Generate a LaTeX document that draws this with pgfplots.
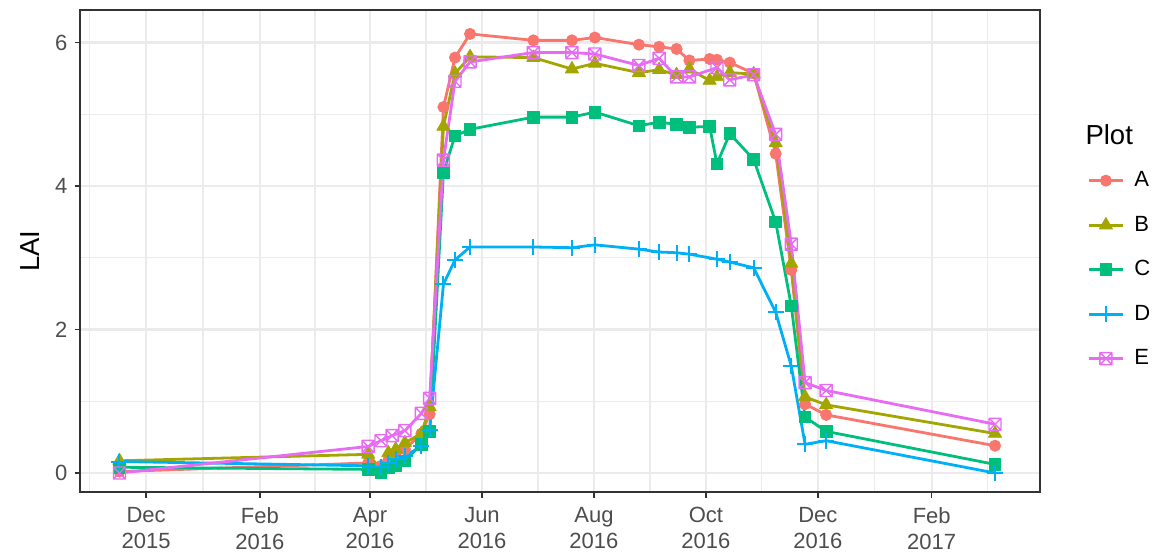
\documentclass[border=0pt]{standalone}
\usepackage{fontspec}
\setmainfont{Liberation Sans}
\usepackage{pgfplots}
\pgfplotsset{compat=1.18}
\usepackage{pgfplotstable}

\definecolor{cA}{HTML}{F8766D}
\definecolor{cB}{HTML}{A3A500}
\definecolor{cC}{HTML}{00BF7D}
\definecolor{cD}{HTML}{00B0F6}
\definecolor{cE}{HTML}{E76BF3}
\definecolor{gridgray}{HTML}{EBEBEB}
\definecolor{gray20}{HTML}{333333}
\definecolor{gray30}{HTML}{4D4D4D}

% square with a cross inside (ggplot shape 7)
\pgfdeclareplotmark{sqx}{%
  \pgfpathrectangle{\pgfqpoint{-\pgfplotmarksize}{-\pgfplotmarksize}}{\pgfqpoint{2\pgfplotmarksize}{2\pgfplotmarksize}}%
  \pgfpathmoveto{\pgfqpoint{-\pgfplotmarksize}{-\pgfplotmarksize}}%
  \pgfpathlineto{\pgfqpoint{\pgfplotmarksize}{\pgfplotmarksize}}%
  \pgfpathmoveto{\pgfqpoint{-\pgfplotmarksize}{\pgfplotmarksize}}%
  \pgfpathlineto{\pgfqpoint{\pgfplotmarksize}{-\pgfplotmarksize}}%
  \pgfusepathqstroke}

% day = days since 1 Dec 2015
\pgfplotstableread{
day lai
-14.5 0.02
121 0.14
128 0.10
132 0.18
136 0.27
141 0.33
150 0.55
154.5 0.82
162 5.10
168.3 5.79
176.5 6.12
211 6.03
232 6.03
244.5 6.07
268.5 5.97
279.5 5.94
289 5.91
296 5.75
307 5.77
311 5.76
318 5.72
331 5.57
343 4.45
351.5 2.83
359 0.96
370.5 0.81
462.5 0.38
}\plotA
\pgfplotstableread{
day lai
-14.5 0.17
121 0.26
128 0.05
132 0.28
136 0.33
141 0.42
150 0.55
154.5 0.92
162 4.83
168.3 5.57
176.5 5.80
211 5.79
232 5.63
244.5 5.71
268.5 5.58
279.5 5.62
289 5.55
296 5.63
307 5.47
311 5.52
318 5.58
331 5.56
343 4.60
351.5 2.92
359 1.06
370.5 0.95
462.5 0.55
}\plotB
\pgfplotstableread{
day lai
-14.5 0.08
121 0.05
128 0.00
132 0.07
136 0.11
141 0.17
150 0.40
154.5 0.58
162 4.19
168.3 4.70
176.5 4.79
211 4.96
232 4.96
244.5 5.03
268.5 4.84
279.5 4.89
289 4.86
296 4.82
307 4.83
311 4.31
318 4.73
331 4.37
343 3.50
351.5 2.33
359 0.78
370.5 0.58
462.5 0.12
}\plotC
\pgfplotstableread{
day lai
-14.5 0.16
121 0.10
128 0.09
132 0.14
136 0.19
141 0.24
150 0.37
154.5 0.60
162 2.63
168.3 2.97
176.5 3.15
211 3.15
232 3.14
244.5 3.18
268.5 3.12
279.5 3.08
289 3.07
296 3.05
311 2.98
318 2.94
331 2.86
343 2.24
351.5 1.49
359 0.40
370.5 0.45
462.5 0.00
}\plotD
\pgfplotstableread{
day lai
-14.5 0.00
121 0.37
128 0.45
134 0.52
141 0.59
150 0.83
154.5 1.04
162 4.36
168.3 5.46
176.5 5.73
211 5.86
232 5.86
244.5 5.84
268.5 5.68
279.5 5.78
289 5.52
296 5.52
311 5.65
318 5.48
331 5.55
343 4.72
351.5 3.19
359 1.26
370.5 1.15
462.5 0.68
}\plotE

\begin{document}
\begin{tikzpicture}
\useasboundingbox (0,0) rectangle (578.5pt,277pt);
\begin{axis}[
    at={(40pt,31pt)}, anchor=south west,
    scale only axis, width=480pt, height=241pt,
    clip=false,
    xmin=-36, xmax=487,
    ymin=-0.265, ymax=6.453,
    xtick={0,62,122,183,244,305,366,428},
    xticklabels={{Dec\\2015},{Feb\\2016},{Apr\\2016},{Jun\\2016},{Aug\\2016},{Oct\\2016},{Dec\\2016},{Feb\\2017}},
    minor xtick={-31,31,92,152.5,213.5,274.5,335.5,397,458.5},
    ytick={0,2,4,6},
    minor ytick={1,3,5},
    grid=both,
    major grid style={gridgray, line width=1.1pt},
    minor grid style={gridgray, line width=0.55pt},
    axis line style={gray20, line width=0.7pt},
    tick align=outside,
    xtick pos=bottom, ytick pos=left,
    major tick length=2.75pt, minor tick length=0pt,
    tick style={gray20, line width=0.7pt},
    ticklabel style={font=\fontsize{11}{13}\selectfont, text=gray30},
    xticklabel style={align=center, yshift=-1.5pt},
    /pgf/number format/assume math mode=true,
    ylabel={LAI},
    ylabel style={font=\fontsize{13.75}{15}\selectfont, at={(axis description cs:-0.052,0.5)}, anchor=center},
    legend style={at={(axis description cs:1.049,0.693)}, anchor=north west,
        draw=none, fill=none, inner sep=0pt,
        font=\fontsize{11}{12}\selectfont,
        nodes={minimum height=22.25pt, inner sep=2pt},
        /tikz/every odd column/.style={column sep=3pt}},
    legend cell align=left,
    every axis plot/.append style={line width=1.4pt, line join=round},
]
\addplot[color=cA, mark=*, mark size=2.8pt, mark options={line width=0.4pt}] table {\plotA};
\addlegendentry{A}
\addplot[color=cB, mark=triangle*, mark size=3.8pt, mark options={line width=0.4pt}] table {\plotB};
\addlegendentry{B}
\addplot[color=cC, mark=square*, mark size=2.9pt, mark options={line width=0.4pt}] table {\plotC};
\addlegendentry{C}
\addplot[color=cD, mark=+, mark size=4pt, mark options={line width=1pt}] table {\plotD};
\addlegendentry{D}
\addplot[color=cE, mark=sqx, mark size=3pt, mark options={line width=0.7pt}] table {\plotE};
\addlegendentry{E}
\node[anchor=west, font=\fontsize{13.75}{15}\selectfont, inner sep=0pt] at (axis description cs:1.047,0.741) {Plot};
\end{axis}
\end{tikzpicture}
\end{document}
